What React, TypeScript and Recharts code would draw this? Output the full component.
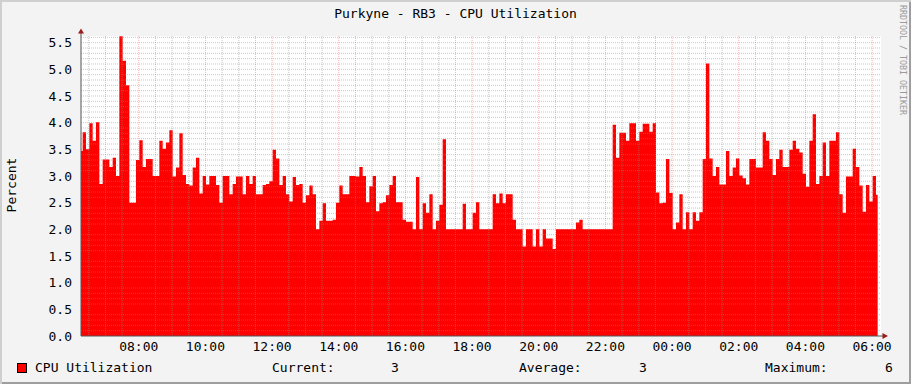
import { AreaChart, Area, XAxis, YAxis, CartesianGrid } from "recharts";

// 6-minute samples, starting 06:16
const START_MIN = 376;
const STEP_MIN = 6;

const cpuFrom0616 = [
  3.47, 3.82, 3.5, 3.99, 3.66, 4.01, 2.85, 3.31, 3.31, 3.17, 3.34, 3.0, 5.62, 5.16, 4.7, 2.5, 2.5, 3.3,
  3.67, 3.17, 3.32, 3.32, 3.0, 3.0, 3.66, 3.51, 3.63, 3.86, 2.99, 3.16, 3.8, 3.02, 2.85, 2.82, 3.16,
  3.34, 2.67, 3.0, 2.84, 3.0, 3.0,
];
const cpuFrom1022 = [
  2.83, 2.5, 3.0, 3.0, 2.66, 2.85, 2.99, 2.99, 2.66, 3.0, 2.85, 3.0, 2.66, 2.66, 2.83, 2.85, 2.9, 3.49,
  3.33, 2.83, 3.0, 2.66, 2.52, 2.98, 2.83, 2.85, 2.5, 2.64, 2.82, 2.66, 2.0, 2.16, 2.49, 2.16, 2.16,
  2.18, 2.5, 2.82, 2.66, 2.66,
];
const cpuFrom1422 = [
  3.0, 3.0, 2.99, 3.17, 3.0, 2.51, 2.81, 3.0, 2.34, 2.49, 2.51, 2.64, 2.83, 3.0, 2.51, 2.51, 2.18, 2.14,
  2.14, 2.0, 2.98, 2.0, 2.49, 2.31, 2.66, 2.0, 2.16, 2.46, 3.69, 2.0, 2.0, 2.0, 2.0, 2.0, 2.48, 2.0, 2.0,
  2.31, 2.51, 2.0, 2.0,
];
const cpuFrom1828 = [
  2.0, 2.0, 2.66, 2.49, 2.67, 2.49, 2.66, 2.66, 2.18, 2.0, 2.0, 1.68, 2.0, 2.0, 1.68, 2.0, 1.68, 2.0,
  1.83, 1.83, 1.63, 2.0, 2.0, 2.0, 2.0, 2.0, 2.0, 2.13, 2.18, 2.0, 2.0, 2.0, 2.0, 2.0, 2.0, 2.0, 2.0,
  2.0, 3.96, 3.34,
];
const cpuFrom2228 = [
  3.81, 3.81, 3.66, 3.99, 3.99, 3.66, 3.83, 3.98, 3.98, 3.83, 3.99, 2.69, 2.49, 2.5, 3.32, 2.68, 2.0,
  2.13, 2.66, 2.0, 2.32, 2.0, 2.32, 2.16, 2.32, 3.32, 5.11, 3.33, 3.0, 3.17, 2.84, 2.84, 3.47, 3.0, 3.16,
  3.33, 3.01, 2.96, 2.84, 3.32, 3.32,
];
const cpuFrom0234 = [
  3.16, 3.16, 3.82, 3.66, 3.32, 3.02, 3.32, 3.49, 3.17, 3.17, 3.49, 3.66, 3.51, 3.44, 3.04, 2.8, 3.66,
  4.16, 2.85, 3.0, 3.63, 3.0, 3.66, 3.66, 3.82, 2.66, 2.31, 2.99, 2.99, 3.51, 3.17, 2.82, 2.33, 2.83,
  2.52, 3.0, 2.65,
];

const xTicks = [480, 600, 720, 840, 960, 1080, 1200, 1320, 1440, 1560, 1680, 1800];
const yTicks = [0, 0.5, 1, 1.5, 2, 2.5, 3, 3.5, 4, 4.5, 5, 5.5];
const X_DOMAIN = [376, 1816];
const Y_MAX = 5.625;

const cpu = [...cpuFrom0616, ...cpuFrom1022, ...cpuFrom1422, ...cpuFrom1828, ...cpuFrom2228, ...cpuFrom0234];
const data = cpu.map((v, i) => ({ t: START_MIN + i * STEP_MIN, cpu: v }));

// minor grid: every 30 min / 0.1 %
const minorX: number[] = [];
for (let m = 390; m < X_DOMAIN[1]; m += 30) if (m % 120 !== 0) minorX.push(m);
const minorY: number[] = [];
for (let k = 1; k <= 56; k++) if (k % 5 !== 0) minorY.push(k / 10);

const FONT = "'DejaVu Sans Mono', monospace";
const W = 911;
const H = 384;

function hhmm(min: number) {
  const m = ((min % 1440) + 1440) % 1440;
  const h = Math.floor(m / 60);
  const mm = m % 60;
  return `${String(h).padStart(2, "0")}:${String(mm).padStart(2, "0")}`;
}

const tickStyle = { fill: "#000", fontSize: 13, fontFamily: FONT };

export default function App() {
  return (
    <div
      style={{
        position: "absolute",
        left: 0,
        top: 0,
        width: W,
        height: H,
        background: "#f3f3f3",
        fontFamily: FONT,
        color: "#000",
        boxShadow: "inset 2px 2px 0 #cfcfcf, inset -2px -2px 0 #9e9e9e",
        overflow: "hidden",
      }}
    >
      <div
        style={{
          position: "absolute",
          top: 6,
          left: 0,
          width: W,
          textAlign: "center",
          fontSize: 13,
          lineHeight: "16px",
        }}
      >
        Purkyne - RB3 - CPU Utilization
      </div>

      {/* series layer */}
      <div style={{ position: "absolute", left: 0, top: 0 }}>
        <AreaChart width={W} height={H} data={data} margin={{ top: 36, right: 30, bottom: 48, left: 81 }}>
          <rect x={81} y={36} width={800} height={300} fill="#fff" />
          <XAxis dataKey="t" type="number" domain={X_DOMAIN} hide />
          <YAxis type="number" domain={[0, Y_MAX]} hide />
          <Area
            type="step"
            dataKey="cpu"
            stroke="none"
            fill="#ff0000"
            fillOpacity={1}
            isAnimationActive={false}
          />
        </AreaChart>
      </div>

      {/* grid + axes layer on top, like rrdtool */}
      <div style={{ position: "absolute", left: 0, top: 0 }}>
        <AreaChart width={W} height={H} data={data} margin={{ top: 36, right: 30, bottom: 0, left: 0 }}>
          <CartesianGrid
            horizontalValues={minorY}
            verticalValues={minorX}
            stroke="rgba(143,143,143,0.5)"
            strokeDasharray="1 1"
            fill="none"
          />
          <CartesianGrid
            horizontalValues={yTicks.slice(1)}
            verticalValues={xTicks}
            stroke="rgba(240,0,0,0.3)"
            strokeDasharray="1 1"
            fill="none"
          />
          <XAxis
            dataKey="t"
            type="number"
            domain={X_DOMAIN}
            ticks={xTicks}
            tickFormatter={hhmm}
            height={48}
            tickSize={4}
            tickMargin={2}
            tickLine={false}
            axisLine={{ stroke: "#555" }}
            tick={tickStyle}
            interval={0}
          />
          <YAxis
            type="number"
            domain={[0, Y_MAX]}
            ticks={yTicks}
            tickFormatter={(v: number) => v.toFixed(1)}
            width={81}
            tickSize={4}
            tickMargin={5}
            tickLine={false}
            axisLine={{ stroke: "#555" }}
            tick={tickStyle}
            interval={0}
          />
          <Area dataKey="cpu" stroke="none" fill="none" isAnimationActive={false} />
        </AreaChart>
      </div>

      {/* axis arrows */}
      <svg width={W} height={H} style={{ position: "absolute", left: 0, top: 0, pointerEvents: "none" }}>
        <line x1={81} y1={33} x2={81} y2={36} stroke="#555" />
        <polygon points="78,33.5 84,33.5 81,28.5" fill="#9b1c1c" />
        <line x1={881} y1={336} x2={883} y2={336} stroke="#555" />
        <polygon points="882.5,333 882.5,339 888,336" fill="#9b1c1c" />
      </svg>

      <div
        style={{
          position: "absolute",
          left: 4,
          top: 185,
          fontSize: 13,
          lineHeight: "16px",
          transform: "translate(0, -50%) rotate(-90deg)",
          transformOrigin: "center",
          width: 16,
          display: "flex",
          justifyContent: "center",
          whiteSpace: "nowrap",
        }}
      >
        <span style={{ display: "inline-block" }}>Percent</span>
      </div>

      <div
        style={{
          position: "absolute",
          left: 898,
          top: 5,
          fontSize: 8.3,
          lineHeight: "10px",
          writingMode: "vertical-rl",
          color: "#9a9a9a",
          whiteSpace: "nowrap",
        }}
      >
        RRDTOOL / TOBI OETIKER
      </div>

      {/* legend */}
      <div
        style={{
          position: "absolute",
          left: 17,
          top: 363,
          width: 10,
          height: 10,
          background: "#ff0000",
          border: "1px solid #000",
          boxSizing: "border-box",
        }}
      />
      {[
        { text: "CPU Utilization", left: 35 },
        { text: "Current:", left: 272 },
        { text: "3", left: 391 },
        { text: "Average:", left: 519 },
        { text: "3", left: 639 },
        { text: "Maximum:", left: 765 },
        { text: "6", left: 885 },
      ].map((it) => (
        <div
          key={it.text + it.left}
          style={{ position: "absolute", left: it.left, top: 360, fontSize: 13, lineHeight: "16px", whiteSpace: "pre" }}
        >
          {it.text}
        </div>
      ))}
    </div>
  );
}
